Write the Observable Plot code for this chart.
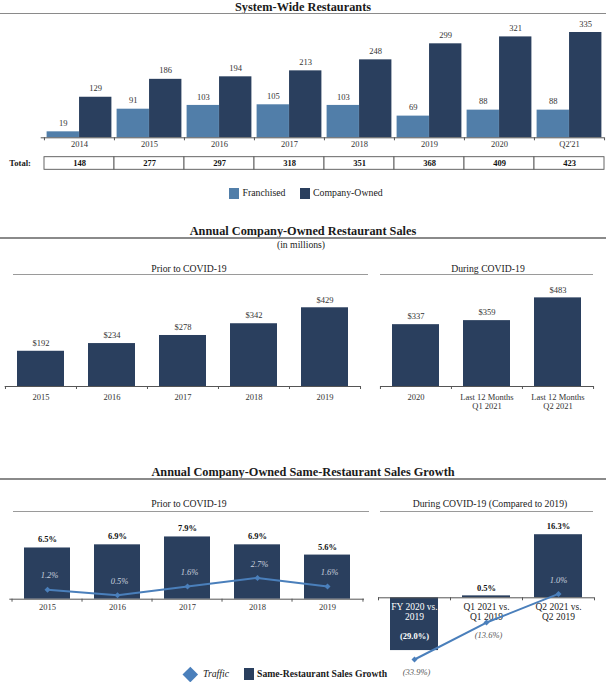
<!DOCTYPE html>
<html><head><meta charset="utf-8">
<script src="https://cdn.jsdelivr.net/npm/d3@7"></script>
<script src="https://cdn.jsdelivr.net/npm/@observablehq/plot@0.6"></script>
<style>
body{margin:0;background:#fff;}
#root{position:relative;width:606px;height:682px;overflow:hidden;font-family:"Liberation Serif","Times New Roman",serif;color:#1a1a1a;background:#fff;}
.t{position:absolute;transform:translate(-50%,-50%);white-space:nowrap;line-height:1;}
.tl{position:absolute;transform:translate(0,-50%);white-space:nowrap;line-height:1;}
.abs{position:absolute;}
</style></head><body><div id="root"></div>
<script>
// ---------- DATA ----------
const years1 = ["2014","2015","2016","2017","2018","2019","2020","Q2'21"];
const franchised = [19,91,103,105,103,69,88,88];
const companyOwned = [129,186,194,213,248,299,321,335];
const totals = [148,277,297,318,351,368,409,423];

const salesPriorCats = ["2015","2016","2017","2018","2019"];
const salesPrior = [192,234,278,342,429];
const salesDuringCats = ["2020","Last 12 Months\nQ1 2021","Last 12 Months\nQ2 2021"];
const salesDuring = [337,359,483];

const growthPriorCats = ["2015","2016","2017","2018","2019"];
const srsGrowthPrior = [6.5,6.9,7.9,6.9,5.6];
const trafficPrior = [1.2,0.5,1.6,2.7,1.6];
const growthDuringCats = ["FY 2020 vs.\n2019","Q1 2021 vs.\nQ1 2019","Q2 2021 vs.\nQ2 2019"];
const srsGrowthDuring = [-29.0,0.5,16.3];
const trafficDuring = [-33.9,-13.6,1.0];

// ---------- STYLE ----------
const NAVY = "#2a3f5e", BLUE = "#517ea9", TRAFFIC = "#4a7fbb", AXIS = "#555";
const root = document.getElementById("root");
const baseStyle = {fontFamily: '"Liberation Serif", "Times New Roman", serif', fontSize: "8.5px", background: "transparent", overflow: "visible", color: "#1a1a1a"};

function label(text, x, cy, style = {}, cls = "t") {
  const d = document.createElement("div"); d.className = cls; d.textContent = text;
  d.style.left = x + "px"; d.style.top = cy + "px";
  Object.assign(d.style, style); root.appendChild(d); return d;
}
function hline(x1, x2, y, w, color) {
  const d = document.createElement("div"); d.className = "abs";
  Object.assign(d.style, {left: x1 + "px", top: (y - w / 2) + "px", width: (x2 - x1) + "px", height: w + "px", background: color});
  root.appendChild(d);
}
function box(x, y, w, h, color, extra = {}) {
  const d = document.createElement("div"); d.className = "abs";
  Object.assign(d.style, {left: x + "px", top: y + "px", width: w + "px", height: h + "px", background: color}, extra);
  root.appendChild(d);
}
function place(svg, left, top) {
  svg.style.position = "absolute"; svg.style.left = left + "px"; svg.style.top = top + "px";
  root.appendChild(svg);
}
const fmtPct = v => v < 0 ? `(${(-v).toFixed(1)}%)` : `${v.toFixed(1)}%`;

// boundary tick marks for a band axis
function bandTicks(cats, step) {
  return [
    Plot.ruleX(cats, {x: d => d, y1: 0, y2: 0, dx: -step / 2, insetBottom: -3, stroke: AXIS}),
    Plot.ruleX(cats.slice(-1), {x: d => d, y1: 0, y2: 0, dx: step / 2, insetBottom: -3, stroke: AXIS})
  ];
}

// ---------- PANEL 1 : System-Wide Restaurants ----------
label("System-Wide Restaurants", 303, 7, {fontWeight: "bold", fontSize: "12.3px"});
hline(0, 606, 13.5, 1.8, "#8a8a8a");

const sys = years1.map((year, i) => ({year, franchised: franchised[i], company: companyOwned[i], total: totals[i]}));
{
  const H = 160, BASE = 137.3, r0 = 43.2, r1 = 604;
  const step = (r1 - r0) / years1.length, half = step / 2, gap = 2.6;
  const c1 = Plot.plot({
    width: 606, height: H, marginTop: 32, marginBottom: H - BASE, marginLeft: 40.7, marginRight: 2,
    x: {type: "band", domain: years1, range: [r0, r1], padding: 0, axis: null},
    y: {domain: [0, d3.max(companyOwned)], axis: null},
    style: baseStyle,
    marks: [
      Plot.barY(sys, {x: "year", y: "franchised", fill: BLUE, insetLeft: gap, insetRight: half}),
      Plot.barY(sys, {x: "year", y: "company", fill: NAVY, insetLeft: half, insetRight: gap}),
      Plot.text(sys, {x: "year", y: "franchised", text: "franchised", dx: (gap - half) / 2, dy: -8.6, fill: "#333"}),
      Plot.text(sys, {x: "year", y: "company", text: "company", dx: (half - gap) / 2, dy: -8.6, fill: "#333"}),
      Plot.ruleY([0], {stroke: AXIS}),
      ...bandTicks(years1, step),
      Plot.text(years1, {x: d => d, frameAnchor: "bottom", dy: 9.4, fill: "#333"})
    ]
  });
  place(c1, 0, 0);

  const c1t = Plot.plot({
    width: 606, height: 14, marginTop: 0.7, marginBottom: 0.7, marginLeft: 40.7, marginRight: 2,
    x: {type: "band", domain: years1, range: [r0, r1], padding: 0, axis: null},
    style: baseStyle,
    marks: [
      Plot.cell(sys, {x: "year", fill: "white", stroke: "#555", strokeWidth: 0.9, inset: 0}),
      Plot.text(sys, {x: "year", text: "total", fontWeight: "bold", fill: "#111"})
    ]
  });
  place(c1t, 0, 156);
}
label("Total:", 9.3, 163, {fontWeight: "bold", fontSize: "8.6px"}, "tl");
// legend 1
box(229, 187.5, 10, 11, BLUE);
label("Franchised", 242.5, 193, {fontSize: "9.8px"}, "tl");
box(299.5, 187.5, 10, 11, NAVY);
label("Company-Owned", 313, 193, {fontSize: "9.8px"}, "tl");

// ---------- PANEL 2 : Annual Company-Owned Restaurant Sales ----------
label("Annual Company-Owned Restaurant Sales", 303, 231, {fontWeight: "bold", fontSize: "12.3px"});
hline(0, 606, 238.3, 1.8, "#8a8a8a");
label("(in millions)", 301, 245, {fontSize: "9.7px"});
label("Prior to COVID-19", 189, 269.3, {fontSize: "9.7px"});
hline(12.7, 368.3, 274.3, 1.6, "#9a9a9a");
label("During COVID-19", 488, 269.3, {fontSize: "9.7px"});
hline(380, 592.7, 274.3, 1.6, "#9a9a9a");

{
  const TOP = 280, H = 130, BASE = 386, K = 0.1835;
  const maxS = d3.max([...salesPrior, ...salesDuring]);
  const mt = (BASE - TOP) - maxS * K, mb = TOP + H - BASE;
  const mk = (cats, vals, ml, mr, w) => {
    const rows = cats.map((c, i) => ({c, v: vals[i]}));
    const step = (w - ml - mr) / cats.length;
    return Plot.plot({
      width: w, height: H, marginTop: mt, marginBottom: mb, marginLeft: ml, marginRight: mr,
      x: {type: "band", domain: cats, padding: 0, axis: null},
      y: {domain: [0, maxS], axis: null},
      style: baseStyle,
      marks: [
        Plot.barY(rows, {x: "c", y: "v", fill: NAVY, insetLeft: 12, insetRight: 12}),
        Plot.text(rows, {x: "c", y: "v", text: d => "$" + d.v, dy: -8, fill: "#333"}),
        Plot.ruleY([0], {stroke: AXIS}),
        ...bandTicks(cats, step),
        Plot.text(cats, {x: d => d, frameAnchor: "bottom", lineAnchor: "top", dy: 7, lineHeight: 1.05, fill: "#333"})
      ]
    });
  };
  place(mk(salesPriorCats, salesPrior, 4.7, 10, 370), 0, TOP);
  place(mk(salesDuringCats, salesDuring, 10, 12.7, 236), 370, TOP);
}

// ---------- PANEL 3 : Same-Restaurant Sales Growth ----------
label("Annual Company-Owned Same-Restaurant Sales Growth", 303, 471.7, {fontWeight: "bold", fontSize: "12.3px"});
hline(0, 606, 479, 1.8, "#8a8a8a");
label("Prior to COVID-19", 189, 504.3, {fontSize: "9.7px"});
hline(13.3, 369, 511.4, 1.6, "#9a9a9a");
label("During COVID-19 (Compared to 2019)", 490, 504.3, {fontSize: "9.7px"});
hline(380, 592.7, 511.4, 1.6, "#9a9a9a");

{
  const TOP = 515, H = 110, BASE = 598.7, K = 7.88;
  const maxG = d3.max(srsGrowthPrior);
  const rows = growthPriorCats.map((c, i) => ({c, g: srsGrowthPrior[i], t: trafficPrior[i]}));
  const ml = 9.3, mr = 6, w = 370, step = (w - ml - mr) / rows.length;
  const c3a = Plot.plot({
    width: w, height: H, marginTop: (BASE - TOP) - maxG * K, marginBottom: TOP + H - BASE, marginLeft: ml, marginRight: mr,
    x: {type: "band", domain: growthPriorCats, padding: 0, axis: null},
    y: {domain: [0, maxG], axis: null},
    style: baseStyle,
    marks: [
      Plot.barY(rows, {x: "c", y: "g", fill: NAVY, insetLeft: 12, insetRight: 12}),
      Plot.text(rows, {x: "c", y: "g", text: d => fmtPct(d.g), dy: -8.3, fontWeight: "bold", fill: "#111"}),
      Plot.ruleY([0], {stroke: AXIS}),
      ...bandTicks(growthPriorCats, step),
      Plot.text(growthPriorCats, {x: d => d, frameAnchor: "bottom", dy: 10.3, fill: "#333"}),
      Plot.line(rows, {x: "c", y: "t", stroke: TRAFFIC, strokeWidth: 2}),
      Plot.dot(rows, {x: "c", y: "t", symbol: "diamond2", r: 2.7, fill: TRAFFIC}),
      Plot.text(rows, {x: "c", y: "t", text: d => fmtPct(d.t), dy: -14, dx: 2, fontStyle: "italic", fill: "#c8d1de"})
    ]
  });
  place(c3a, 0, TOP);
}
{
  const TOP = 515, H = 167, BASE = 597.3 - 515, KN = 1.82, KP = 3.87;
  const lo = -35, hi = 17;
  const rows = growthDuringCats.map((c, i) => ({c, g: srsGrowthDuring[i], t: trafficDuring[i]}));
  const ml = 8, mr = 12, w = 236, step = (w - ml - mr) / rows.length;
  const c3b = Plot.plot({
    width: w, height: H, marginTop: 10, marginBottom: 10, marginLeft: ml, marginRight: mr,
    x: {type: "band", domain: growthDuringCats, padding: 0, axis: null},
    y: {type: "linear", domain: [lo, 0, hi], range: [BASE - lo * KN, BASE, BASE - hi * KP], axis: null},
    style: baseStyle,
    marks: [
      Plot.barY(rows, {x: "c", y: "g", fill: NAVY, insetLeft: 12, insetRight: 12}),
      Plot.ruleY([0], {stroke: AXIS}),
      ...bandTicks(growthDuringCats, step),
      Plot.text(rows, {x: "c", y: 0, text: "c", lineAnchor: "top", dy: 4.6, lineHeight: 1.08, fontSize: 9.5,
                       fill: d => d.g < 0 ? "#ffffff" : "#222"}),
      Plot.text(rows, {x: "c", y: "g", text: d => fmtPct(d.g), dy: d => 0, fontWeight: "bold",
                       filter: d => d.g >= 0, dy: -8, fill: "#111"}),
      Plot.text(rows, {x: "c", y: "g", text: d => fmtPct(d.g), fontWeight: "bold",
                       filter: d => d.g < 0, dy: -14, fill: "#fff"}),
      Plot.line(rows, {x: "c", y: "t", stroke: TRAFFIC, strokeWidth: 2}),
      Plot.dot(rows, {x: "c", y: "t", symbol: "diamond2", r: 2.7, fill: TRAFFIC}),
      Plot.text(rows, {x: "c", y: "t", text: d => fmtPct(d.t), filter: d => d.t >= 0, dy: -13.3, fontStyle: "italic", fill: "#c8d1de"}),
      Plot.text(rows, {x: "c", y: "t", text: d => fmtPct(d.t), filter: d => d.t < 0, dy: 12.5, dx: 2, fontStyle: "italic", fill: "#555"})
    ]
  });
  place(c3b, 370, TOP);
}
// legend 3
box(184.7, 668.7, 10.6, 10.6, TRAFFIC, {transform: "rotate(45deg)"});
label("Traffic", 203, 674, {fontSize: "9.8px", fontStyle: "italic"}, "tl");
box(243.5, 668, 10, 12, NAVY);
label("Same-Restaurant Sales Growth", 257, 674, {fontSize: "9.7px", fontWeight: "bold"}, "tl");
</script></body></html>
